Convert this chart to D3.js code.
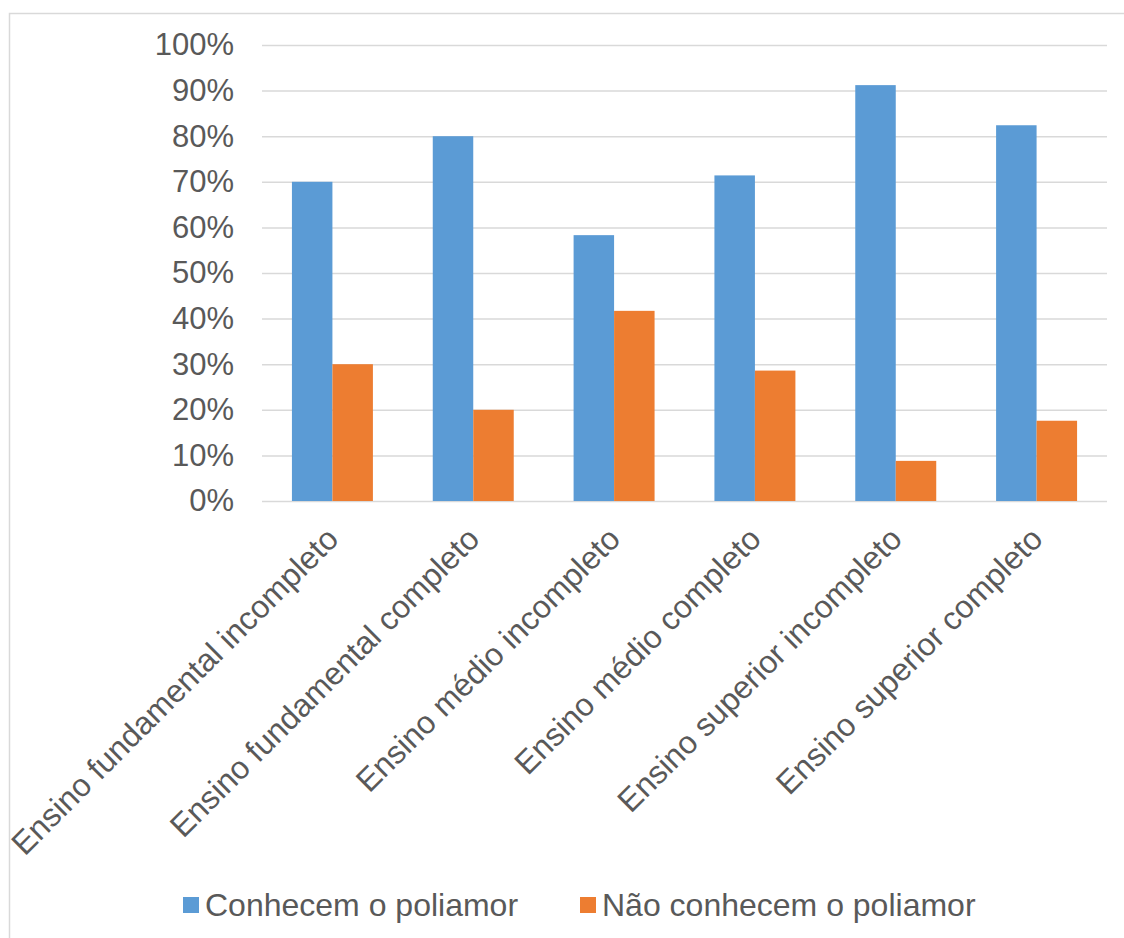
<!DOCTYPE html>
<html>
<head>
<meta charset="utf-8">
<script src="https://cdn.jsdelivr.net/npm/d3@7"></script>
<style>
  html, body { margin: 0; padding: 0; background: #fff; }
  svg { display: block; font-family: "Liberation Sans", Arial, sans-serif; }
</style>
</head>
<body>
<svg id="chart" width="1124" height="938"></svg>
<script>
// Education levels and share of respondents who know / don't know polyamory
const categories = [
  "Ensino fundamental incompleto",
  "Ensino fundamental completo",
  "Ensino médio incompleto",
  "Ensino médio completo",
  "Ensino superior incompleto",
  "Ensino superior completo"
];
const seriesNames = ["Conhecem o poliamor", "Não conhecem o poliamor"];
const conhecem = [70.0, 80.0, 58.3, 71.4, 91.2, 82.4];
const naoConhecem = [30.0, 20.0, 41.7, 28.6, 8.8, 17.6];
const yTicks = [0, 10, 20, 30, 40, 50, 60, 70, 80, 90, 100];
const colors = ["#5B9BD5", "#ED7D31"];

const FONT = "'Liberation Sans', Arial, sans-serif";
const svg = d3.select("#chart");
const plot = { left: 262, right: 1107, top: 45, bottom: 501 };

// Outer chart frame (only top and left edges fall inside the canvas)
svg.append("rect")
  .attr("x", 9.5).attr("y", 13.5)
  .attr("width", 1130).attr("height", 940)
  .attr("fill", "#fff").attr("stroke", "#d9d9d9").attr("stroke-width", 1.5);

const x = d3.scaleBand()
  .domain(categories)
  .range([plot.left, plot.right])
  .paddingInner(0.425)
  .paddingOuter(0.2125);

const xSub = d3.scaleBand()
  .domain(seriesNames)
  .range([0, x.bandwidth()]);

const y = d3.scaleLinear().domain([0, 100]).range([plot.bottom, plot.top]);

// Horizontal gridlines and percentage labels
const yAxis = d3.axisLeft(y)
  .tickValues(yTicks)
  .tickSize(-(plot.right - plot.left))
  .tickPadding(28)
  .tickFormat(d => d + "%");

const gy = svg.append("g")
  .attr("transform", `translate(${plot.left},0)`)
  .call(yAxis);
gy.select(".domain").remove();
gy.selectAll(".tick line").attr("stroke", "#d9d9d9").attr("stroke-width", 1.5);
gy.selectAll(".tick text")
  .attr("fill", "#595959")
  .style("font-size", "31px")
  .style("font-family", FONT);

// Grouped bars
const rows = categories.map((c, i) => ({ cat: c, vals: [conhecem[i], naoConhecem[i]] }));
const groups = svg.append("g").selectAll("g")
  .data(rows)
  .join("g")
  .attr("transform", d => `translate(${x(d.cat)},0)`);

groups.selectAll("rect")
  .data(d => d.vals.map((v, k) => ({ name: seriesNames[k], v, k })))
  .join("rect")
  .attr("x", d => xSub(d.name))
  .attr("y", d => y(d.v))
  .attr("width", xSub.bandwidth())
  .attr("height", d => y(0) - y(d.v))
  .attr("fill", d => colors[d.k]);

// Rotated category labels
const gx = svg.append("g")
  .attr("transform", `translate(0,${plot.bottom})`)
  .call(d3.axisBottom(x).tickSize(0).tickPadding(0));
gx.select(".domain").remove();
gx.selectAll(".tick text")
  .attr("fill", "#595959")
  .style("font-size", "32px")
  .style("font-family", FONT)
  .attr("text-anchor", "end")
  .attr("dy", "0")
  .attr("y", 0)
  .attr("transform", "translate(8,40) rotate(-45)");

// Legend
const legend = svg.append("g").attr("transform", "translate(183,905)");
const legendX = [0, 397];
seriesNames.forEach((name, k) => {
  const item = legend.append("g").attr("transform", `translate(${legendX[k]},0)`);
  item.append("rect")
    .attr("x", 0).attr("y", -8)
    .attr("width", 16).attr("height", 16)
    .attr("fill", colors[k]);
  item.append("text")
    .attr("x", 22).attr("y", 0)
    .attr("dy", "0.35em")
    .attr("fill", "#595959")
    .style("font-size", "32px")
    .style("font-family", FONT)
    .text(name);
});
</script>
</body>
</html>
